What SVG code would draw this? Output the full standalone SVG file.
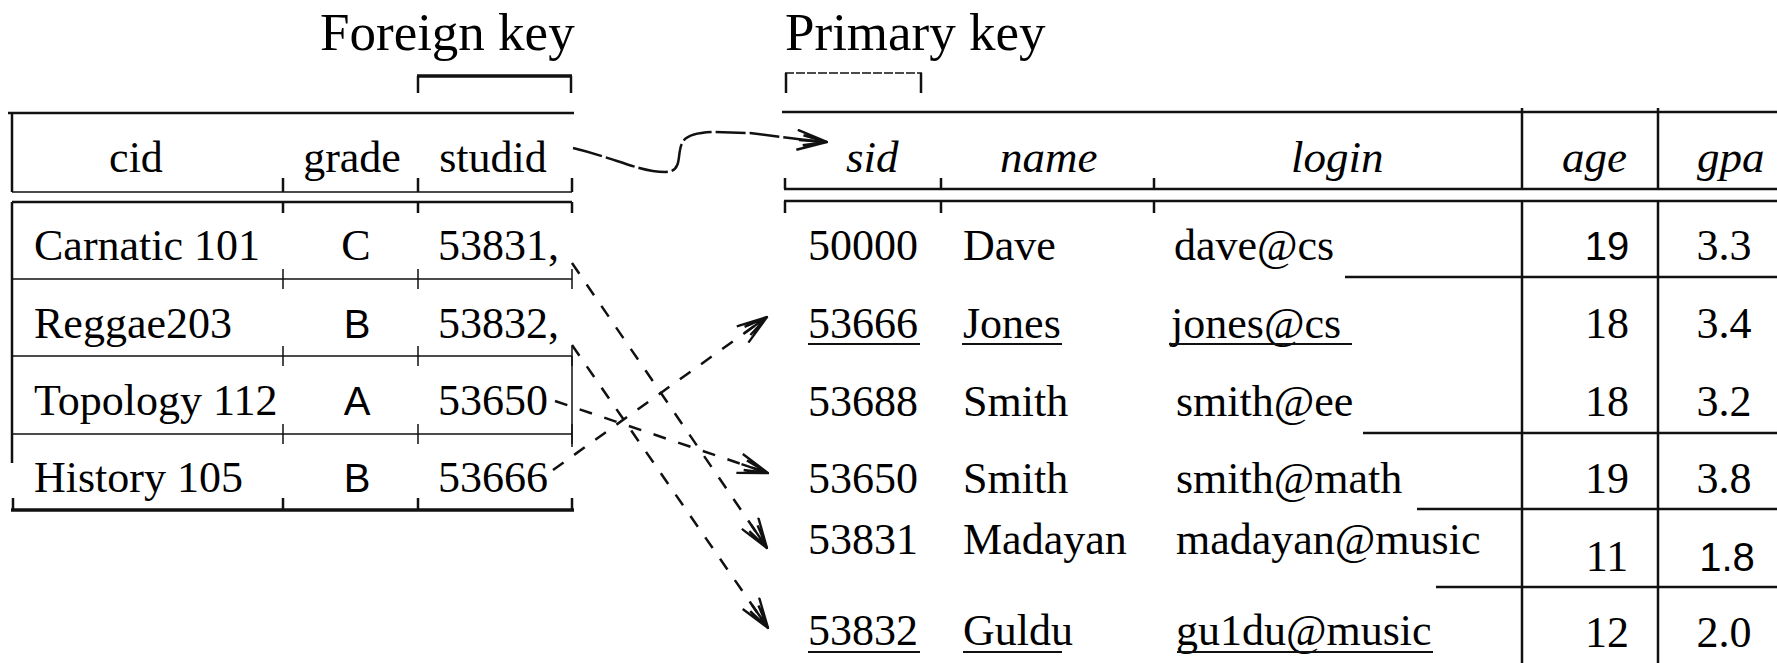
<svg xmlns="http://www.w3.org/2000/svg" width="1777" height="663" viewBox="0 0 1777 663">
  <style>
    .t { font-family: "Liberation Serif", "Times New Roman", serif; font-size: 44px; fill: #000; }
    .hd { font-style: italic; font-size: 45px; }
    .ttl { font-size: 53px; }
    .sans { font-family: "Liberation Sans", Arial, sans-serif; font-size: 40px; }
    .mid { text-anchor: middle; }
    .ln { stroke: #111; stroke-width: 2.5; fill: none; }
    .thin { stroke-width: 1.5; }
    .thick { stroke-width: 3.5; }
    .ul { stroke: #111; stroke-width: 2; }
    .dash { stroke: #111; stroke-width: 2.5; stroke-dasharray: 13 13; fill: none; }
    .curve { stroke: #111; stroke-width: 2.5; stroke-dasharray: 30 4; fill: none; }
  </style>
  <defs>
    <!-- feathered open arrowhead: two outer barbs plus two inner strokes -->
    <marker id="head" markerUnits="userSpaceOnUse" viewBox="0 0 32 22" refX="31" refY="11" markerWidth="32" markerHeight="22" orient="auto">
      <path d="M1 1 L31 11 L1 21 M7 6 L31 11 M7 16 L31 11 M3 11 H31" fill="none" stroke="#111" stroke-width="2.4"/>
    </marker>
  </defs>
  <rect width="1777" height="663" fill="#fff"/>

  <!-- key labels with brackets -->
  <g id="fk-label">
    <text class="t ttl" x="320" y="50">Foreign key</text>
    <path class="ln thick" d="M417 76 H572"/>
    <path class="ln" d="M418 76 V93" stroke-width="3"/>
    <path class="ln" d="M571 76 V93" stroke-width="5"/>
  </g>
  <g id="pk-label">
    <text class="t ttl" x="785" y="50">Primary key</text>
    <path class="ln thin" d="M785 73 H922" stroke-dasharray="9 2"/>
    <path class="ln" d="M786 73 V93"/>
    <path class="ln" d="M921 73 V93" stroke-width="3.5"/>
  </g>

  <!-- Enrolled table -->
  <g id="enrolled">
    <g id="enrolled-grid">
      <path class="ln" d="M8 113 H574"/>
      <path class="ln" d="M12 113 V192 M12 202 V463"/>
      <path class="ln thin" d="M12 192 H572"/>
      <path class="ln" d="M12 202 H572"/>
      <path class="ln" d="M283 178 V192 M418 178 V192 M572 178 V192 M283 202 V213 M418 202 V213 M572 202 V213"/>
      <path class="ln thin" d="M12 279 H572 M12 356 H572 M12 434 H572"/>
      <path class="ln thin" d="M283 269 V289 M418 269 V289 M572 269 V289 M283 346 V366 M418 346 V366 M572 346 V366 M283 424 V444 M418 424 V444 M572 424 V444"/>
      <path class="ln thin" d="M572 356 V447"/>
      <path class="ln thick" d="M11 510 H574"/>
      <path class="ln" d="M13 498 V510 M283 498 V510 M418 498 V510 M572 498 V510" stroke-width="5"/>
    </g>
    <g id="enrolled-head">
      <text class="t mid" x="136" y="172" font-size="45">cid</text>
      <text class="t mid" x="352" y="172" font-size="45">grade</text>
      <text class="t mid" x="493" y="172" font-size="45">studid</text>
    </g>
    <g id="enrolled-row1">
      <text class="t" x="34" y="260" font-size="43">Carnatic 101</text>
      <text class="t mid" x="356" y="260">C</text>
      <text class="t" x="438" y="260">53831,</text>
    </g>
    <g id="enrolled-row2">
      <text class="t" x="34" y="338" font-size="43">Reggae203</text>
      <text class="t sans mid" x="357" y="338">B</text>
      <text class="t" x="438" y="338">53832,</text>
    </g>
    <g id="enrolled-row3">
      <text class="t" x="34" y="415" font-size="43">Topology 112</text>
      <text class="t sans mid" x="357" y="415">A</text>
      <text class="t" x="438" y="415">53650</text>
    </g>
    <g id="enrolled-row4">
      <text class="t" x="34" y="492" font-size="43">History 105</text>
      <text class="t sans mid" x="357" y="492">B</text>
      <text class="t" x="438" y="492">53666</text>
    </g>
  </g>

  <!-- Students table -->
  <g id="students">
    <g id="students-grid">
      <path class="ln" d="M782 112 H1777"/>
      <path class="ln" d="M784 189 H1777" stroke-width="1.3"/>
      <path class="ln" d="M784 201 H1777"/>
      <path class="ln" d="M785 178 V189 M941 178 V189 M1154 178 V189 M785 201 V213 M941 201 V213 M1154 201 V213"/>
      <path class="ln" d="M1522 108 V189 M1522 201 V663 M1658 108 V189 M1658 201 V663" stroke-width="3"/>
      <path class="ln" d="M1345 277 H1777 M1363 433 H1777 M1417 509 H1777 M1436 587 H1777"/>
    </g>
    <g id="students-head">
      <text class="t hd" x="846" y="172">sid</text>
      <text class="t hd" x="1000" y="172">name</text>
      <text class="t hd" x="1291" y="172">login</text>
      <text class="t hd" x="1562" y="172">age</text>
      <text class="t hd" x="1697" y="172">gpa</text>
    </g>
    <g id="student-50000">
      <text class="t" x="808" y="260">50000</text>
      <text class="t" x="963" y="260">Dave</text>
      <text class="t" x="1174" y="260">dave@cs</text>
      <text class="t sans mid" x="1607" y="260" font-size="38">19</text>
      <text class="t mid" x="1724" y="260">3.3</text>
    </g>
    <g id="student-53666">
      <text class="t" x="808" y="338">53666</text>
      <text class="t" x="963" y="338">Jones</text>
      <text class="t" x="1171" y="338">jones@cs</text>
      <path class="ul" d="M808 344 H920 M962 344 H1062 M1169 344 H1352"/>
      <text class="t mid" x="1607" y="338">18</text>
      <text class="t mid" x="1724" y="338">3.4</text>
    </g>
    <g id="student-53688">
      <text class="t" x="808" y="416">53688</text>
      <text class="t" x="963" y="416">Smith</text>
      <text class="t" x="1176" y="416">smith@ee</text>
      <text class="t mid" x="1607" y="416">18</text>
      <text class="t mid" x="1724" y="416">3.2</text>
    </g>
    <g id="student-53650">
      <text class="t" x="808" y="493">53650</text>
      <text class="t" x="963" y="493">Smith</text>
      <text class="t" x="1176" y="493">smith@math</text>
      <text class="t mid" x="1607" y="493">19</text>
      <text class="t mid" x="1724" y="493">3.8</text>
    </g>
    <g id="student-53831">
      <text class="t" x="808" y="554">53831</text>
      <text class="t" x="963" y="554">Madayan</text>
      <text class="t" x="1176" y="554">madayan@music</text>
      <text class="t mid" x="1607" y="571">11</text>
      <text class="t sans mid" x="1727" y="571">1.8</text>
    </g>
    <g id="student-53832">
      <text class="t" x="808" y="645">53832</text>
      <text class="t" x="963" y="645">Guldu</text>
      <text class="t" x="1176" y="645">gu1du@music</text>
      <path class="ul" d="M808 652 H920 M963 652 H1062 M1177 652 H1433"/>
      <text class="t mid" x="1607" y="647">12</text>
      <text class="t mid" x="1724" y="647">2.0</text>
    </g>
  </g>

  <!-- references from Enrolled.studid to Students.sid -->
  <g id="connectors">
    <path class="curve" d="M573 148 C615 158 640 172 665 172 C680 172 678 160 680 150 C682 137 690 133 712 132 L750 133 C775 136 800 140 827 142" marker-end="url(#head)"/>
    <path class="dash" d="M572 263 L767 548" marker-end="url(#head)"/>
    <path class="dash" d="M572 345 L768 628" marker-end="url(#head)"/>
    <path class="dash" d="M555 401 L768 473" marker-end="url(#head)"/>
    <path class="dash" d="M553 470 L767 317" marker-end="url(#head)"/>
  </g>
</svg>
